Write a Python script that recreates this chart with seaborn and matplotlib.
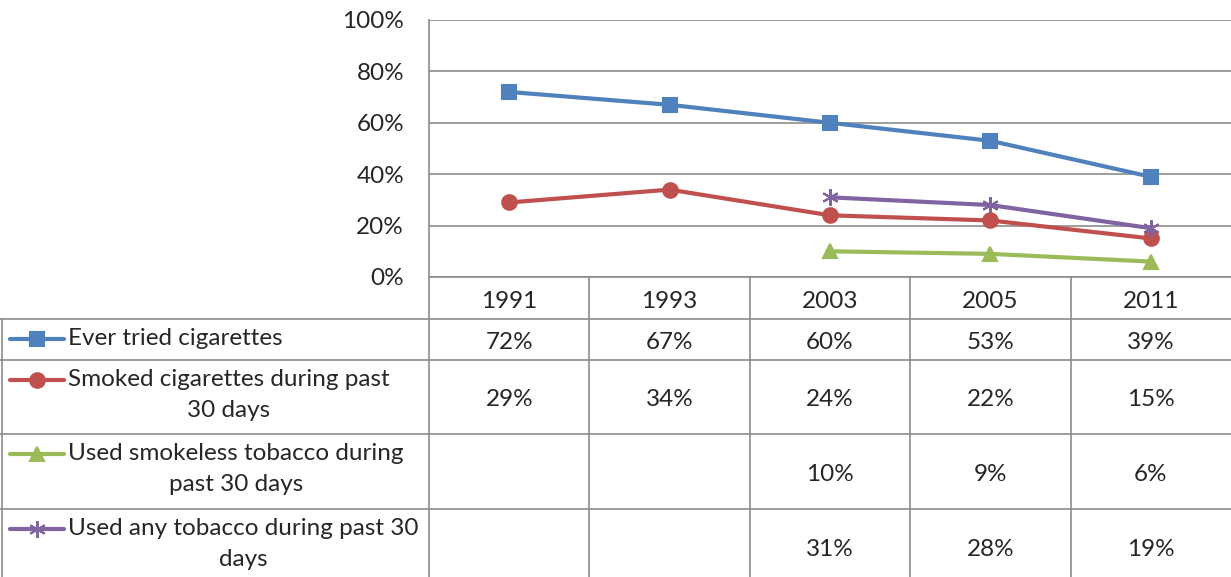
import numpy as np
import pandas as pd
import seaborn as sns
import matplotlib.pyplot as plt

years = ["1991", "1993", "2003", "2005", "2011"]
labels = [
    "Ever tried cigarettes",
    "Smoked cigarettes during past\n30 days",
    "Used smokeless tobacco during\npast 30 days",
    "Used any tobacco during past 30\ndays",
]
ever_tried = [72, 67, 60, 53, 39]
smoked_30 = [29, 34, 24, 22, 15]
smokeless_30 = [np.nan, np.nan, 10, 9, 6]
any_tobacco_30 = [np.nan, np.nan, 31, 28, 19]

values = [ever_tried, smoked_30, smokeless_30, any_tobacco_30]
colors = ["#4F81BD", "#C0504D", "#9BBB59", "#8064A2"]
markers = ["s", "o", "^", (6, 2, 0)]
msizes = [9.5, 10.5, 10.5, 12]

sns.set_style("white")
plt.rcParams["font.family"] = ["Lato", "DejaVu Sans"]

W, H = 1231, 577
fig = plt.figure(figsize=(W / 100, H / 100), dpi=100)

# pixel layout (from reference)
px_left, px_top, px_zero = 429, 20, 277
col_w = (W - px_left) / len(years)
row_lines = [319, 360, 434, 509, 583]
grid_col = "#8C8C8C"
fs = 17.5

ax = fig.add_axes([px_left / W, (H - px_zero) / H, (W - px_left) / W, (px_zero - px_top) / H])

for name, vals, c, m, ms in zip(labels, values, colors, markers, msizes):
    df = pd.DataFrame({"pos": np.arange(len(years)), "pct": vals}).dropna()
    sns.lineplot(data=df, x="pos", y="pct", ax=ax, color=c, linewidth=3,
                 marker=m, markersize=ms, markeredgecolor=c, markeredgewidth=1.5)

ax.set_xlim(-0.5, len(years) - 0.5)
ax.set_ylim(0, 100)
ax.set_yticks(range(0, 101, 20))
ax.set_yticklabels([f"{t}%" for t in range(0, 101, 20)], fontsize=fs)
ax.set_xticks([])
ax.set_xlabel("")
ax.set_ylabel("")
ax.tick_params(axis="y", length=0, pad=18)
ax.grid(axis="y", color=grid_col, linewidth=1.2)
for s in ["top", "right", "bottom"]:
    ax.spines[s].set_visible(False)
ax.spines["left"].set_color(grid_col)
ax.spines["left"].set_linewidth(1.2)
ax.patch.set_alpha(0)

# data table drawn in pixel coordinates
tab = fig.add_axes([0, 0, 1, 1], zorder=-1)
tab.set_xlim(0, W)
tab.set_ylim(H, 0)
tab.axis("off")

col_edges = [px_left + i * col_w for i in range(len(years) + 1)]
for x in col_edges[:-1]:
    tab.plot([x, x], [px_zero, H], color=grid_col, lw=1.2)
tab.plot([2, 2], [row_lines[0], H], color=grid_col, lw=1.2)
tab.plot([px_left, W], [row_lines[0] - 42, row_lines[0] - 42], color=grid_col, lw=1.2)
for y in row_lines[:-1]:
    tab.plot([0, W], [y, y], color=grid_col, lw=1.2)

for i, yr in enumerate(years):
    tab.text(col_edges[i] + col_w / 2, (px_zero + row_lines[0]) / 2 + 1, yr,
             ha="center", va="center_baseline", fontsize=fs)

for r, (name, vals, c, m, ms) in enumerate(zip(labels, values, colors, markers, msizes)):
    top, bot = row_lines[r], row_lines[r + 1]
    mid = (top + bot) / 2
    key_y = top + 20
    tab.plot([10, 64], [key_y, key_y], color=c, lw=3)
    tab.plot([37], [key_y], marker=m, color=c, markersize=ms, markeredgecolor=c, markeredgewidth=1.5)
    tab.text(68, top + 9, name, ha="left", va="top", multialignment="center",
             fontsize=fs, linespacing=1.6)
    for i, v in enumerate(vals):
        if not np.isnan(v):
            tab.text(col_edges[i] + col_w / 2, mid + 1, f"{v:.0f}%", ha="center",
                     va="center_baseline", fontsize=fs)

fig.savefig("out.png", dpi=100)
